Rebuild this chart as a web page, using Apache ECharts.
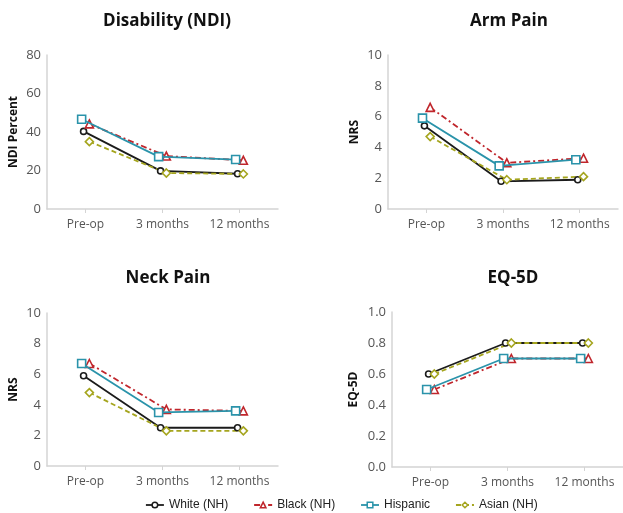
<!DOCTYPE html>
<html><head><meta charset="utf-8">
<script src="https://cdn.jsdelivr.net/npm/echarts@6/dist/echarts.min.js"></script>
<style>html,body{margin:0;padding:0;background:#fff}#c{width:623px;height:513px}</style>
</head><body><div id="c"></div>
<script>
var categories = ['Pre-op', '3 months', '12 months'];
var groups = ['White (NH)', 'Black (NH)', 'Hispanic', 'Asian (NH)'];
var panelTitles = ['Disability (NDI)', 'Arm Pain', 'Neck Pain', 'EQ-5D'];
var yNames = ['NDI Percent', 'NRS', 'NRS', 'EQ-5D'];
var yMax = [80, 10, 10, 1.0];
var yInterval = [20, 2, 2, 0.2];

// values per panel, per group (White, Black, Hispanic, Asian)
var ndiWhite = [40.3, 19.8, 18.3];
var ndiBlack = [44.2, 27.5, 25.3];
var ndiHispanic = [46.6, 27.2, 25.7];
var ndiAsian = [35.0, 18.7, 18.2];

var armWhite = [5.4, 1.8, 1.9];
var armBlack = [6.6, 3.0, 3.3];
var armHispanic = [5.9, 2.8, 3.2];
var armAsian = [4.7, 1.9, 2.1];

var neckWhite = [5.9, 2.5, 2.5];
var neckBlack = [6.7, 3.7, 3.6];
var neckHispanic = [6.7, 3.5, 3.6];
var neckAsian = [4.8, 2.3, 2.3];

var eqWhite = [0.6, 0.8, 0.8];
var eqBlack = [0.5, 0.7, 0.7];
var eqHispanic = [0.5, 0.7, 0.7];
var eqAsian = [0.6, 0.8, 0.8];

var panelData = [
  [ndiWhite, ndiBlack, ndiHispanic, ndiAsian],
  [armWhite, armBlack, armHispanic, armAsian],
  [neckWhite, neckBlack, neckHispanic, neckAsian],
  [eqWhite, eqBlack, eqHispanic, eqAsian]
];

// styles
var colors = ['#1b1b1b', '#c0262c', '#2a93aa', '#a5a51e'];
var symbols = ['circle', 'triangle', 'rect', 'diamond'];
var symbolSizes = [6, 8, 8, 8];
var lineTypes = ['solid', [6, 3, 2, 3], 'solid', [5, 3]];
var dodge = [-0.025, 0.05, -0.05, 0.05];

var grids = [
  {left: 47, top: 55, width: 231, height: 154},
  {left: 388, top: 55, width: 230, height: 154},
  {left: 47, top: 313, width: 231, height: 153},
  {left: 392, top: 312, width: 231, height: 155}
];
var titlePos = [[162, 8], [504, 8], [163, 265], [508, 265]];
var nameGaps = [27, 27, 27, 32];

var font = '"Open Sans", "Noto Sans", sans-serif';
var xAxes = [], yAxes = [], series = [], titles = [];
grids.forEach(function (g, p) {
  titles.push({
    text: panelTitles[p], left: titlePos[p][0], top: titlePos[p][1], textAlign: 'center',
    textStyle: {fontFamily: font, fontWeight: 'bold', fontSize: 17, color: '#111'}
  });
  xAxes.push({
    type: 'category', gridIndex: p, data: categories, boundaryGap: true,
    axisLine: {onZero: false, lineStyle: {color: '#d4d4d4', width: 1.5}},
    axisTick: {show: true, alignWithLabel: true, length: 4, lineStyle: {color: '#d4d4d4'}},
    axisLabel: {interval: 0, color: '#555', fontFamily: font, fontSize: 12, margin: 10}
  });
  xAxes.push({
    type: 'value', gridIndex: p, min: -0.5, max: 2.5, show: false,
    axisLine: {onZero: false}
  });
  yAxes.push({
    type: 'value', gridIndex: p, min: 0, max: yMax[p], interval: yInterval[p],
    name: yNames[p], nameLocation: 'middle', nameGap: nameGaps[p],
    nameTextStyle: {fontFamily: font, fontWeight: 'bold', fontSize: 12, color: '#111'},
    axisLine: {show: true, onZero: false, lineStyle: {color: '#d4d4d4', width: 1.5}},
    axisTick: {show: false},
    splitLine: {show: false},
    axisLabel: {color: '#555', fontFamily: font, fontSize: 13, margin: 6,
      formatter: function (v) { return p === 3 ? v.toFixed(1) : String(v); }}
  });
  panelData[p].forEach(function (vals, s) {
    series.push({
      name: groups[s], type: 'line', xAxisIndex: p * 2 + 1, yAxisIndex: p,
      data: vals.map(function (v, i) { return [i + dodge[s], v]; }),
      symbol: symbols[s], symbolSize: symbolSizes[s], showAllSymbol: true,
      itemStyle: {color: '#fff', borderColor: colors[s], borderWidth: 1.6},
      lineStyle: {color: colors[s], width: 1.8, type: lineTypes[s]},
      z: s === 2 ? 3 : 2,
      animation: false
    });
  });
});

var chart = echarts.init(document.getElementById('c'), null, {renderer: 'canvas'});
chart.setOption({
  animation: false,
  title: titles,
  grid: grids,
  xAxis: xAxes,
  yAxis: yAxes,
  legend: {
    top: 494, left: 140, itemGap: 25, itemWidth: 18, itemHeight: 7,
    data: groups.map(function (g, s) {
      return {name: g, itemStyle: {color: '#fff', borderColor: colors[s], borderWidth: 1.5},
        lineStyle: {color: colors[s], width: 1.8, type: lineTypes[s]}};
    }),
    textStyle: {fontFamily: '"Liberation Sans", Arial, sans-serif', fontSize: 12, color: '#222'}
  },
  series: series
});
</script></body></html>
